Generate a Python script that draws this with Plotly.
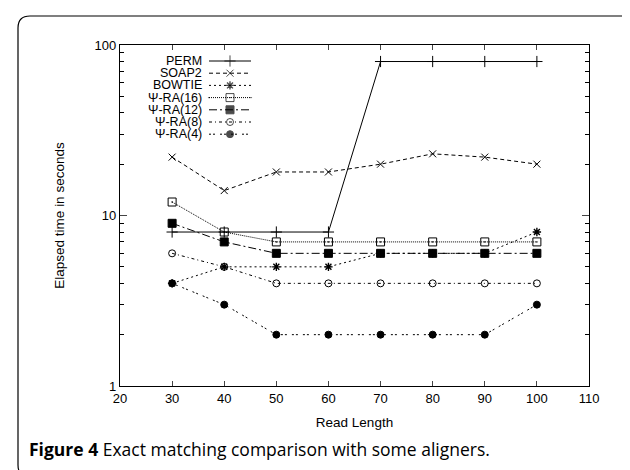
import plotly.graph_objects as go

# ---------------- data ----------------
read_length = [30, 40, 50, 60, 70, 80, 90, 100]
perm   = [8, 8, 8, 8, 80, 80, 80, 80]
soap2  = [22, 14, 18, 18, 20, 23, 22, 20]
bowtie = [4, 5, 5, 5, 6, 6, 6, 8]
psi16  = [12, 8, 7, 7, 7, 7, 7, 7]
psi12  = [9, 7, 6, 6, 6, 6, 6, 6]
psi8   = [6, 5, 4, 4, 4, 4, 4, 4]
psi4   = [4, 3, 2, 2, 2, 2, 2, 3]
names = ["PERM", "SOAP2", "BOWTIE", "Ψ-RA(16)", "Ψ-RA(12)", "Ψ-RA(8)", "Ψ-RA(4)"]
x_ticks = [20, 30, 40, 50, 60, 70, 80, 90, 100, 110]
y_ticks = [1, 10, 100]

series = [perm, soap2, bowtie, psi16, psi12, psi8, psi4]
styles = [
    dict(dash="solid", symbol="cross-thin", size=8, lw=1, mlw=1),
    dict(dash="4px,3px", symbol="x-thin", size=7, lw=1, mlw=1),
    dict(dash="2px,3px", symbol="asterisk", size=7, lw=1, mlw=1.4),
    dict(dash="1px,1px", symbol="square-open-dot", size=8, lw=1, mlw=1),
    dict(dash="8px,3px,2px,3px", symbol="square", size=8, lw=1, mlw=1),
    dict(dash="3px,3px,1px,3px", symbol="circle-open", size=7, lw=1, mlw=1),
    dict(dash="2px,2px,2px,5px", symbol="circle", size=7, lw=1, mlw=1),
]

W, H = 630, 470
L, R, T, B = 112, 581, 37, 378

def px(xp):
    return (xp - L) / (R - L)

def py(yp):
    return (B - yp) / (B - T)

fig = go.Figure()
for name, ys, st in zip(names, series, styles):
    fig.add_trace(go.Scatter(
        x=read_length, y=ys, name=name, mode="lines+markers",
        line=dict(color="black", width=st["lw"], dash=st["dash"]),
        marker=dict(symbol=st["symbol"], size=st["size"], color="black",
                    line=dict(color="black", width=st["mlw"])),
        showlegend=False, cliponaxis=False,
    ))

# ---- gnuplot-style key (text right aligned, sample on the right), pixel axes ----
key_y0, key_dy = 53, 12.2
for i, (name, st) in enumerate(zip(names, styles)):
    yk = key_y0 + i * key_dy
    fig.add_trace(go.Scatter(
        x=[201, 222, 243], y=[yk, yk, yk], xaxis="x2", yaxis="y2",
        mode="lines+markers",
        line=dict(color="black", width=st["lw"], dash=st["dash"]),
        marker=dict(symbol=st["symbol"], size=[0, st["size"], 0], color="black",
                    line=dict(color="black", width=st["mlw"])),
        showlegend=False, hoverinfo="skip", cliponaxis=False,
    ))
    fig.add_annotation(x=196, y=yk, xref="x2", yref="y2", text=name,
                       showarrow=False, xanchor="right", yanchor="middle",
                       font=dict(family="Liberation Sans, Arial", size=12.5, color="black"))

axis_font = dict(family="Liberation Sans, Arial", size=13, color="black")
title_font = dict(family="Liberation Sans, Arial", size=13.5, color="black")
fig.update_layout(
    width=W, height=H,
    margin=dict(l=L, r=W - R, t=T, b=H - B),
    paper_bgcolor="white", plot_bgcolor="white",
    xaxis=dict(range=[20, 110], tickvals=x_ticks, ticks="inside", ticklen=5,
               showline=True, linecolor="black", linewidth=1.3, mirror="allticks",
               showgrid=False, zeroline=False, tickfont=axis_font,
               title=dict(text="Read Length", font=title_font, standoff=12)),
    yaxis=dict(type="log", range=[0, 2], tickvals=y_ticks, ticktext=["1", "10", "100"],
               ticks="inside", ticklen=7,
               showline=True, linecolor="black", linewidth=1.3, mirror="allticks",
               showgrid=False, zeroline=False, tickfont=axis_font,
               minor=dict(ticks="inside", ticklen=4, dtick="D1", showgrid=False, tickcolor="black"),
               title=dict(text="Elapsed time in seconds", font=title_font, standoff=26)),
    xaxis2=dict(range=[L, R], overlaying="x", visible=False, fixedrange=True),
    yaxis2=dict(range=[B, T], overlaying="y", visible=False, fixedrange=True),
)

# rounded frame around figure
x0, y0, x1, y1, r = 10, 8, 629, 469, 12
path = (f"M {px(x0)},{py(y0 + r)} Q {px(x0)},{py(y0)} {px(x0 + r)},{py(y0)} "
        f"L {px(x1 - r)},{py(y0)} Q {px(x1)},{py(y0)} {px(x1)},{py(y0 + r)} "
        f"L {px(x1)},{py(y1 - r)} Q {px(x1)},{py(y1)} {px(x1 - r)},{py(y1)} "
        f"L {px(x0 + r)},{py(y1)} Q {px(x0)},{py(y1)} {px(x0)},{py(y1 - r)} Z")
fig.add_shape(type="path", path=path, xref="paper", yref="paper",
              line=dict(color="black", width=1.2), layer="above")

fig.add_annotation(x=px(19), y=py(441), xref="paper", yref="paper",
                   text="<b>Figure 4</b> Exact matching comparison with some aligners.",
                   showarrow=False, xanchor="left", yanchor="middle",
                   font=dict(family="Open Sans", size=17.5, color="black"))

fig.write_html("out.html")
